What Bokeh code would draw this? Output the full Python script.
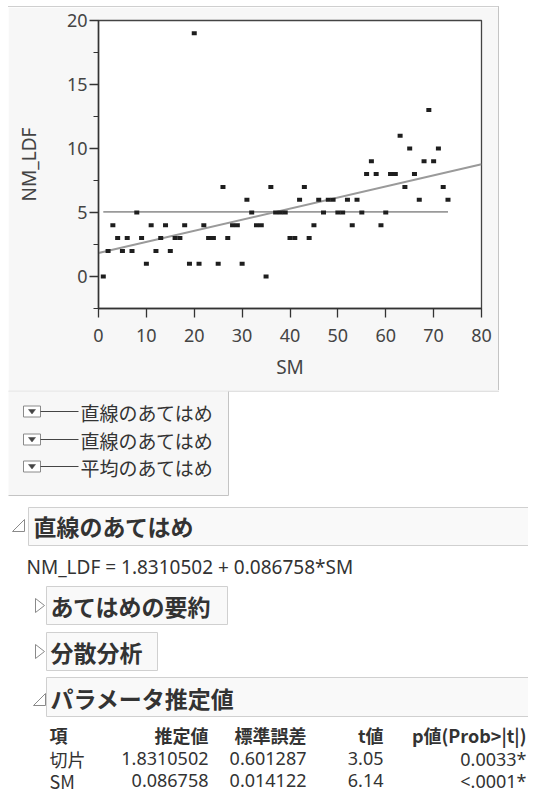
from bokeh.models import Range1d, SingleIntervalTicker, FixedTicker, ColumnDataSource
from bokeh.plotting import figure
from bokeh.layouts import column
from bokeh.core.properties import value
from bokeh.embed import file_html
from bokeh.resources import INLINE

# ---------------- data ----------------
SM = [1, 2, 3, 4, 5, 6, 7, 8, 9, 10,
      11, 12, 13, 14, 15, 16, 17, 18, 19, 20,
      21, 22, 23, 24, 25, 26, 27, 28, 29, 30,
      31, 32, 33, 34, 35, 36, 37, 38, 39, 40,
      41, 42, 43, 44, 45, 46, 47, 48, 49, 50,
      51, 52, 53, 54, 55, 56, 57, 58, 59, 60,
      61, 62, 63, 64, 65, 66, 67, 68, 69, 70,
      71, 72, 73]
NM_LDF = [0, 2, 4, 3, 2, 3, 2, 5, 3, 1,
          4, 2, 3, 4, 2, 3, 3, 4, 1, 19,
          1, 4, 3, 3, 1, 7, 3, 4, 4, 1,
          6, 5, 4, 4, 0, 7, 5, 5, 5, 3,
          3, 6, 7, 3, 4, 6, 5, 6, 6, 5,
          5, 6, 4, 6, 5, 8, 9, 8, 4, 5,
          8, 8, 11, 7, 10, 8, 6, 9, 13, 9,
          10, 7, 6]
X_TICKS = [0, 10, 20, 30, 40, 50, 60, 70, 80]
Y_TICKS = [0, 5, 10, 15, 20]
Y_MIN = -2.5
FIT_INTERCEPT = 1.8310502
FIT_SLOPE = 0.086758
LEGEND_LABELS = ["直線のあてはめ", "直線のあてはめ", "平均のあてはめ"]
FIT_TITLE = "直線のあてはめ"
SUB_TITLES = ["あてはめの要約", "分散分析"]
PARAM_TITLE = "パラメータ推定値"
PARAM_HEADERS = ["項", "推定値", "標準誤差", "t値", "p値(Prob>|t|)"]
PARAM_TERMS = ["切片", "SM"]
PARAM_EST = ["1.8310502", "0.086758"]
PARAM_SE = ["0.601287", "0.014122"]
PARAM_T = ["3.05", "6.14"]
PARAM_P = ["0.0033*", "<.0001*"]

JP = "Noto Sans CJK JP"
LAT = "Noto Sans"
TXT = "#333333"

# ---------------- scatter panel ----------------
p = figure(width=491, height=384,
           x_range=Range1d(X_TICKS[0], X_TICKS[-1]),
           y_range=Range1d(Y_MIN, Y_TICKS[-1]),
           output_backend="svg", toolbar_location=None,
           min_border_left=90, min_border_right=18,
           min_border_top=13, min_border_bottom=83,
           x_axis_label="SM", y_axis_label="NM_LDF")
p.margin = (6, 0, 0, 8)
p.styles = {"border-top": "1px solid #cfcfcf", "border-right": "1px solid #c4c4c4"}
try:
    p.frame_align = False
except Exception:
    pass
p.border_fill_color = "#f7f7f7"
p.background_fill_color = "white"
p.outline_line_color = "#444444"
p.outline_line_width = 1.3
p.grid.visible = False

p.xaxis.ticker = FixedTicker(ticks=X_TICKS)
p.yaxis.ticker = SingleIntervalTicker(interval=Y_TICKS[1] - Y_TICKS[0], num_minor_ticks=2)
for ax in (p.xaxis[0], p.yaxis[0]):
    ax.axis_line_color = "#333333"
    ax.axis_line_width = 1.5
    ax.major_tick_line_color = "#333333"
    ax.major_tick_line_width = 1.3
    ax.major_tick_in = 0
    ax.major_tick_out = 9
    ax.minor_tick_in = 0
    ax.minor_tick_out = 5
    ax.minor_tick_line_color = "#333333"
    ax.major_label_text_font = LAT
    ax.major_label_text_font_size = "18px"
    ax.major_label_text_color = "#444444"
    ax.axis_label_text_font = LAT
    ax.axis_label_text_font_size = "19px"
    ax.axis_label_text_font_style = "normal"
    ax.axis_label_text_color = "#444444"
p.xaxis.minor_tick_line_color = None
p.xaxis.major_label_standoff = 11
p.xaxis.axis_label_standoff = 9
p.yaxis.major_label_standoff = 2
p.yaxis.axis_label_standoff = 22

src = ColumnDataSource(dict(sm=SM, nm=NM_LDF))

# mean fit
mean_val = sum(NM_LDF) / len(NM_LDF)
p.line([min(SM), max(SM)], [mean_val, mean_val], line_color="#9a9a9a", line_width=1.8)
# linear fit across axis range
fx = [X_TICKS[0], X_TICKS[-1]]
p.line(fx, [FIT_INTERCEPT + FIT_SLOPE * v for v in fx], line_color="#9a9a9a", line_width=2)

p.rect(x="sm", y="nm", width=5, height=4, width_units="screen", height_units="screen",
       fill_color="#1e1e1e", line_color=None, source=src)

# ---------------- report panel (pixel coordinates of the picture) ----------------
q = figure(width=528, height=403, x_range=Range1d(0, 528), y_range=Range1d(793, 390),
           output_backend="svg", toolbar_location=None,
           x_axis_location=None, y_axis_location=None,
           min_border=0, min_border_left=0, min_border_right=0,
           min_border_top=0, min_border_bottom=0)
try:
    q.frame_align = False
except Exception:
    pass
q.grid.visible = False
q.outline_line_color = None
q.background_fill_color = "white"
q.border_fill_color = "white"


def txt(x, y, s, size, font=JP, bold=False, align="left", color=TXT):
    q.text(x=[x], y=[y], text=[s], text_font=value(font), text_font_size=size,
           text_font_style="bold" if bold else "normal", text_align=align,
           text_baseline="middle", text_color=color)


# bottom edge of the scatter panel
q.segment(x0=[8], y0=[390.5], x1=[498.5], y1=[390.5], line_color="#c4c4c4", line_width=1)

# legend box
q.quad(left=[8], right=[228], top=[391], bottom=[495], fill_color="#f7f7f7", line_color=None)
q.segment(x0=[228, 8], y0=[391, 495], x1=[228, 228], y1=[495, 495], line_color="#c4c4c4", line_width=1)
legend_rows = [411, 439, 466]
for yy, lab in zip(legend_rows, LEGEND_LABELS):
    q.quad(left=[23], right=[40], top=[yy - 5.5], bottom=[yy + 5.5], fill_color="white",
           line_color="#8a8a8a", line_width=1)
    q.patch([28, 35, 31.5], [yy - 2, yy - 2, yy + 2.5], fill_color="#444444", line_color="#444444", line_width=0.5)
    q.segment(x0=[40], y0=[yy], x1=[78], y1=[yy], line_color="#444444", line_width=1.2)
    txt(80, yy + 1, lab, "19px")


def open_tri(x0, y0):
    q.patch([x0, x0 + 12, x0 + 12], [y0 + 12, y0 + 12, y0], fill_color="white",
            line_color="#8a8a8a", line_width=1)


def closed_tri(x0, yc):
    q.patch([x0, x0, x0 + 9], [yc - 7, yc + 7, yc], fill_color="white",
            line_color="#8a8a8a", line_width=1)


def hbox(l, r, t, b):
    q.quad(left=[l], right=[r], top=[t], bottom=[b], fill_color="#f9f9f9",
           line_color="#d0d0d0", line_width=1)


# fit outline
open_tri(12, 519)
hbox(28, 560, 507, 545)
txt(33, 525, FIT_TITLE, "23px", bold=True)
txt(26, 566, f"NM_LDF = {FIT_INTERCEPT} + {FIT_SLOPE}*SM", "19px", font=LAT)

# collapsed sub outlines
closed_tri(35, 605)
hbox(46, 227, 586, 624)
txt(50, 605, SUB_TITLES[0], "23px", bold=True)
closed_tri(35, 651)
hbox(46, 157, 632, 670)
txt(50, 651, SUB_TITLES[1], "23px", bold=True)

# parameter estimates
open_tri(33, 693)
hbox(46, 560, 677, 716)
txt(50, 697, PARAM_TITLE, "23px", bold=True)

col_right = [208, 306, 383, 526]
hy = 734
txt(49, hy, PARAM_HEADERS[0], "18px", bold=True)
for xr, h in zip(col_right, PARAM_HEADERS[1:]):
    txt(xr, hy, h, "18px", bold=True, align="right")
row_y = [758, 780]
for i, yy in enumerate(row_y):
    txt(49, yy, PARAM_TERMS[i], "18px")
    for xr, vals in zip(col_right, [PARAM_EST, PARAM_SE, PARAM_T, PARAM_P]):
        txt(xr, yy, vals[i], "18px", font=LAT, align="right")

layout = column(p, q)
open("out.html", "w").write(file_html(layout, INLINE))
